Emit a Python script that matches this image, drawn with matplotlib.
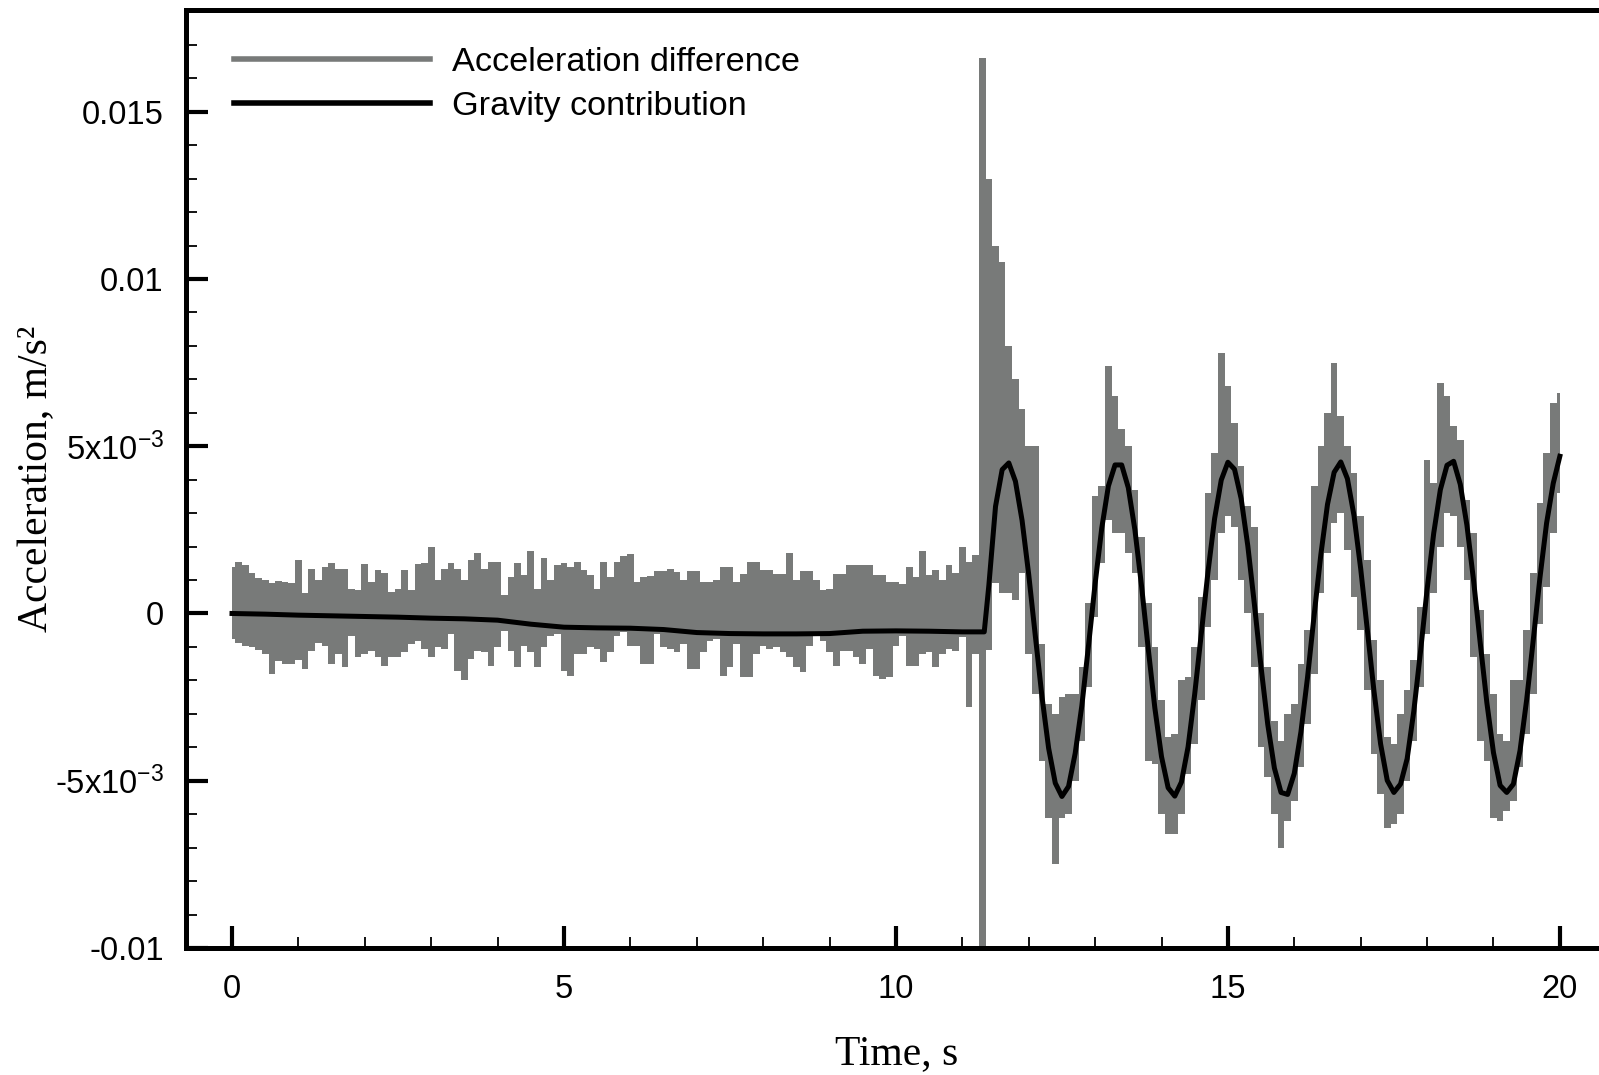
import numpy as np
import matplotlib
matplotlib.use("Agg")
from matplotlib import pyplot as plt
from matplotlib.lines import Line2D
from matplotlib.ticker import MultipleLocator

# acceleration difference, read per 0.1 s bin (upper and lower edge of the noisy trace), 1e-3 m/s^2
t_bins = np.round(np.arange(0, 201) * 0.1, 1)

diff_hi = [
    1.4, 1.54, 1.45, 1.2, 1.07, 1.0, 0.9, 0.97, 0.95, 0.9,
    1.61, 0.6, 1.34, 1.0, 1.39, 1.52, 1.34, 1.34, 0.74, 0.69,
    1.47, 0.94, 1.29, 1.22, 0.64, 0.74, 1.31, 0.69, 1.49,
    1.5, 1.98, 0.99, 1.34, 1.51, 1.34, 0.99, 1.61, 1.82, 1.34,
    1.54, 1.54, 0.54, 1.09, 1.51, 1.14, 1.87, 0.74, 1.66, 0.99,
    1.44, 1.51, 1.39, 1.54, 1.29, 1.14, 0.74, 1.54, 1.09, 1.54,
    1.71, 1.77, 0.94, 1.09, 1.11, 1.27, 1.27, 1.32, 1.24, 0.99,
    1.27, 1.27, 0.94, 0.94, 0.99, 1.39, 1.39, 0.94, 1.19, 1.54,
    1.54, 1.31, 1.31, 1.19, 1.19, 1.81, 1.0, 1.27, 1.27, 0.99,
    0.69, 0.74, 1.19, 1.19, 1.44, 1.44, 1.44, 1.44, 1.14, 1.14,
    0.94, 0.94, 0.89, 1.39, 1.09, 1.87, 1.14, 1.29, 0.99, 1.44,
    1.2, 1.99, 1.54, 1.74,
    16.6, 13.0, 11.0, 10.5, 8.0, 7.0, 6.1, 5.0, 5.0, -0.9,
    -2.7, -3.0, -2.5, -2.4, -2.4, -1.6, 0.3, 3.5, 3.8, 7.4,
    6.5, 5.5, 5.0, 3.7, 2.3, 0.3, -1.0, -2.6, -3.7, -3.6,
    -2.0, -1.9, -1.0, 0.5, 3.6, 4.8, 7.8, 6.8, 5.7, 4.4,
    3.2, 2.6, 0.0, -1.6, -3.2, -3.8, -3.0, -2.7, -1.5, -0.5,
    3.8, 5.0, 6.0, 7.5, 5.9, 5.0, 4.2, 2.9, 1.6, -0.8,
    -2.0, -3.7, -3.9, -3.0, -2.3, -1.4, 0.2, 4.6, 3.9, 6.9,
    6.5, 5.6, 5.2, 3.4, 2.4, 0.1, -1.2, -2.4, -3.6, -3.8,
    -2.0, -2.0, -0.5, 1.2, 3.3, 4.8, 6.3, 6.6,
]

diff_lo = [
    -0.76, -0.89, -0.96, -1.0, -1.09, -1.21, -1.81, -1.41, -1.51, -1.5,
    -1.4, -1.66, -1.11, -0.89, -0.96, -1.51, -1.21, -1.61, -0.66, -1.31,
    -1.21, -1.11, -1.31, -1.56, -1.31, -1.31, -1.16, -0.91, -0.81,
    -1.06, -1.31, -1.01, -1.06, -0.61, -1.71, -2.0, -1.36, -1.11, -1.16,
    -1.56, -1.01, -0.51, -1.11, -1.61, -0.96, -1.16, -1.61, -1.01, -0.66,
    -0.61, -1.71, -1.86, -1.21, -1.21, -1.01, -1.06, -1.46, -1.16, -0.66,
    -0.56, -0.96, -0.96, -1.51, -1.51, -0.61, -1.01, -1.06, -1.16, -0.91,
    -1.66, -1.66, -1.16, -0.81, -0.76, -1.86, -1.61, -0.91, -1.91, -1.91,
    -1.21, -0.96, -1.06, -1.01, -1.16, -1.31, -1.61, -1.76, -0.96, -0.66,
    -0.81, -1.16, -1.56, -1.11, -1.11, -1.31, -1.51, -1.06, -1.86, -1.96,
    -1.91, -0.96, -0.66, -1.56, -1.56, -1.21, -1.16, -1.61, -1.21, -1.06,
    -1.11, -0.71, -2.8, -1.2,
    -11.5, -1.1, 0.9, 0.6, 0.6, 0.4, 1.2, -1.2, -2.4, -4.4,
    -6.1, -7.5, -6.1, -6.0, -5.0, -3.8, -2.2, -0.1, 1.5, 2.8,
    2.4, 2.4, 1.8, 1.2, -1.0, -4.4, -4.5, -6.0, -6.6, -6.6,
    -6.0, -4.8, -3.9, -2.6, -0.4, 1.0, 2.4, 2.9, 2.6, 1.0,
    0.0, -1.6, -4.0, -4.9, -6.0, -7.0, -6.2, -5.6, -4.6, -3.3,
    -1.8, 0.6, 1.8, 2.7, 3.0, 1.9, 0.5, -0.5, -2.3, -4.2,
    -5.4, -6.4, -6.3, -6.0, -5.0, -3.8, -2.2, -0.6, 0.6, 2.0,
    3.0, 2.9, 2.0, 1.0, -1.3, -3.8, -4.4, -6.1, -6.2, -5.9,
    -5.6, -4.6, -3.6, -2.4, -0.3, 0.8, 2.4, 3.6,
]

# gravity contribution, 1e-3 m/s^2
t_grav = [
    0, 0.5, 1.0, 1.5, 2.0, 2.5, 3.0, 3.5, 4.0, 4.5, 5.0, 5.5, 6.0, 6.5,
    7.0, 7.5, 8.0, 8.5, 9.0, 9.5, 10.0, 10.5, 11.0, 11.33,
    11.4, 11.5, 11.6, 11.7, 11.8, 11.9, 12.0, 12.1, 12.2, 12.3, 12.4,
    12.5, 12.6, 12.7, 12.8, 12.9, 13.0, 13.1, 13.2, 13.3, 13.4,
    13.5, 13.6, 13.7, 13.8, 13.9, 14.0, 14.1, 14.2, 14.3, 14.4,
    14.5, 14.6, 14.7, 14.8, 14.9, 15.0, 15.1, 15.2, 15.3, 15.4,
    15.5, 15.6, 15.7, 15.8, 15.9, 16.0, 16.1, 16.2, 16.3, 16.4,
    16.5, 16.6, 16.7, 16.8, 16.9, 17.0, 17.1, 17.2, 17.3, 17.4,
    17.5, 17.6, 17.7, 17.8, 17.9, 18.0, 18.1, 18.2, 18.3, 18.4,
    18.5, 18.6, 18.7, 18.8, 18.9, 19.0, 19.1, 19.2, 19.3, 19.4,
    19.5, 19.6, 19.7, 19.8, 19.9, 20.0,
]
grav = [
    0.0, -0.02, -0.05, -0.07, -0.09, -0.11, -0.14, -0.16, -0.2, -0.32, -0.41, -0.43, -0.44, -0.48,
    -0.57, -0.6, -0.61, -0.61, -0.6, -0.53, -0.52, -0.53, -0.55, -0.55,
    0.85, 3.2, 4.3, 4.5, 3.95, 2.78, 1.16, -0.68, -2.49, -4.03, -5.07,
    -5.47, -5.17, -4.18, -2.76, -0.97, 0.89, 2.55, 3.81, 4.44, 4.44,
    3.76, 2.49, 0.81, -1.05, -2.83, -4.28, -5.21, -5.46, -5.04, -3.99,
    -2.41, -0.59, 1.24, 2.84, 3.99, 4.52, 4.31, 3.43, 2.02, 0.26,
    -1.61, -3.31, -4.62, -5.35, -5.41, -4.78, -3.54, -1.9, -0.03, 1.76,
    3.26, 4.22, 4.53, 4.03, 2.92, 1.34, -0.49, -2.32, -3.9, -4.99,
    -5.35, -5.1, -4.34, -2.92, -1.16, 0.71, 2.4, 3.7, 4.43, 4.55,
    3.86, 2.64, 0.99, -0.87, -2.66, -4.16, -5.14, -5.35, -5.1, -4.1,
    -2.58, -0.78, 1.07, 2.7, 3.89, 4.7,
]

y_ticks = [-0.01, -0.005, 0, 0.005, 0.01, 0.015]
y_tick_labels = ["-0.01", "-5x10$^{-3}$", "0", "5x10$^{-3}$", "0.01", "0.015"]
x_ticks = [0, 5, 10, 15, 20]

grey = "#787a79"
sans = "Liberation Sans"
serif = "Liberation Serif"

plt.rcParams["font.family"] = sans
plt.rcParams["mathtext.fontset"] = "custom"
plt.rcParams["mathtext.rm"] = sans
plt.rcParams["mathtext.it"] = sans

fig = plt.figure(figsize=(15.99, 10.75), dpi=100)
ax = fig.add_axes([186 / 1599, 127 / 1075, 1421 / 1599, 938 / 1075])

scale = 1e-3
ax.fill_between(t_bins, np.array(diff_lo) * scale, np.array(diff_hi) * scale,
                step="mid", color=grey, lw=0, zorder=2)
ax.plot(t_grav, np.array(grav) * scale, color="k", lw=3.6,
        solid_joinstyle="round", zorder=3)

ax.set_xlim(-0.693, 20.71)
ax.set_ylim(-0.01, 0.01804)

ax.set_xticks(x_ticks)
ax.set_xticklabels([str(x) for x in x_ticks])
ax.xaxis.set_minor_locator(MultipleLocator(1))
ax.set_yticks(y_ticks)
ax.set_yticklabels(y_tick_labels)
ax.yaxis.set_minor_locator(MultipleLocator(0.001))

ax.tick_params(which="major", direction="in", length=16, width=3,
               labelsize=23.5, top=False, right=False)
ax.tick_params(which="minor", direction="in", length=8, width=1.3,
               top=False, right=False)
ax.tick_params(axis="y", which="major", pad=16)
ax.tick_params(axis="x", which="major", pad=19)

for side in ["left", "bottom", "top", "right"]:
    ax.spines[side].set_linewidth(3.6)

ax.set_xlabel("Time, s", fontfamily=serif, fontsize=30)
ax.xaxis.set_label_coords(0.5, -0.092)
ax.set_ylabel("Acceleration, m/s\u00b2", fontfamily=serif, fontsize=30)
ax.yaxis.set_label_coords(-0.0915, 0.5)

handles = [Line2D([], [], color=grey, lw=4), Line2D([], [], color="k", lw=4)]
ax.legend(handles, ["Acceleration difference", "Gravity contribution"],
          loc="upper left", bbox_to_anchor=(0.0338, 0.961), frameon=False,
          fontsize=24.7, handlelength=5.7, handletextpad=0.64, labelspacing=0.385,
          borderpad=0, borderaxespad=0)

fig.savefig("out.png", dpi=100)
